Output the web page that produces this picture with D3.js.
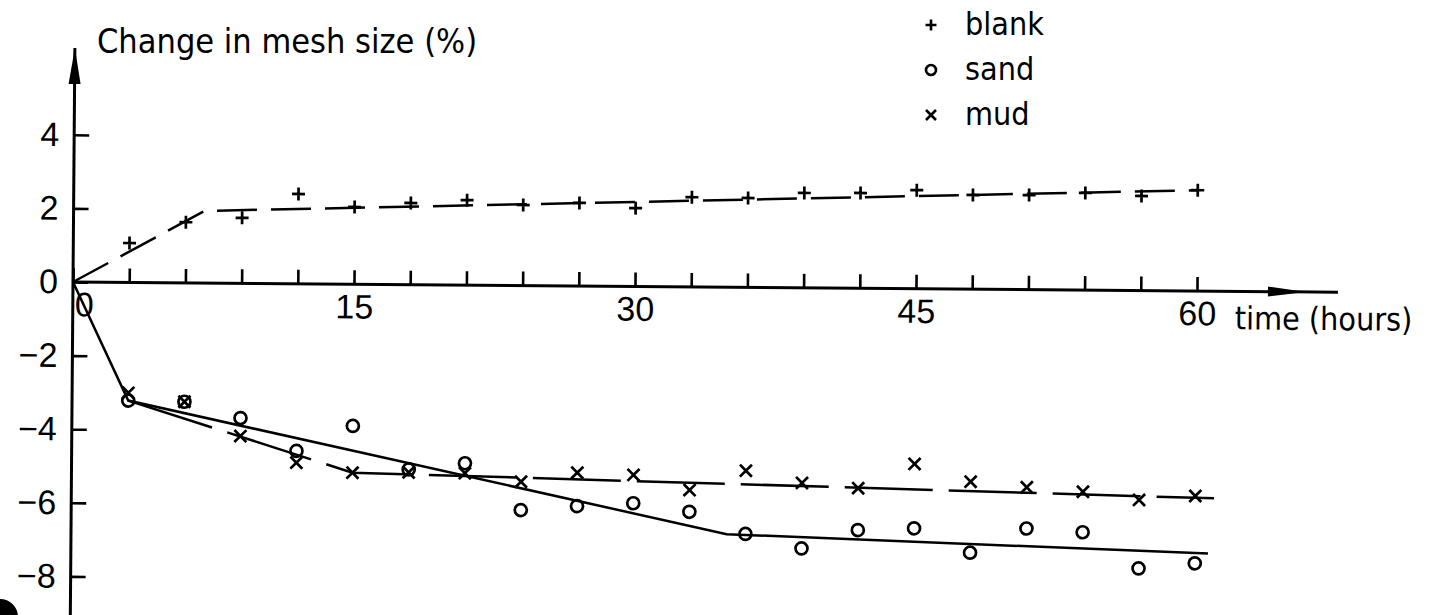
<!DOCTYPE html>
<html>
<head>
<meta charset="utf-8">
<script src="https://cdn.jsdelivr.net/npm/d3@7"></script>
<style>
  body { margin: 0; background: #fff; }
  svg { display: block; font-family: "DejaVu Sans Condensed", "DejaVu Sans", sans-serif; font-stretch: condensed; }
</style>
</head>
<body>
<svg id="chart" width="1434" height="615"></svg>
<script>
// measurements, hours after start
var hours = [3, 6, 9, 12, 15, 18, 21, 24, 27, 30, 33, 36, 39, 42, 45, 48, 51, 54, 57, 60];
var blank = [1.07, 1.65, 1.78, 2.44, 2.10, 2.22, 2.31, 2.19, 2.26, 2.13, 2.44, 2.43, 2.58, 2.59, 2.68, 2.56, 2.57, 2.64, 2.57, 2.74];
var sand = [-3.21, -3.23, -3.66, -4.54, -3.85, -5.02, -4.84, -6.10, -5.98, -5.89, -6.11, -6.70, -7.08, -6.57, -6.51, -7.16, -6.49, -6.58, -7.55, -7.40];
var mud = [-3.00, -3.23, -4.15, -4.86, -5.12, -5.10, -5.11, -5.33, -5.07, -5.12, -5.52, -4.98, -5.30, -5.43, -4.76, -5.23, -5.37, -5.48, -5.69, -5.57];

// hand fitted lines
var blankFitHours = [0, 7, 60];
var blankFitValues = [0, 1.96, 2.74];
var sandFitHours = [0, 3, 35, 60.7];
var sandFitValues = [0, -3.21, -6.71, -7.13];
var mudFitHours = [3, 15, 61];
var mudFitValues = [-3.21, -5.12, -5.63];

var xTicks = [0, 3, 6, 9, 12, 15, 18, 21, 24, 27, 30, 33, 36, 39, 42, 45, 48, 51, 54, 57, 60];
var xLabelTicks = [0, 15, 30, 45, 60];
var yTicks = [-8, -6, -4, -2, 0, 2, 4];

var legendNames = ["blank", "sand", "mud"];

var svg = d3.select("#chart");

var x = d3.scaleLinear().domain([0, 60]).range([73, 1197]);
var y = d3.scaleLinear().domain([-8, 4]).range([576.4, 134.8]);

// the scan is turned a little clockwise
var plot = svg.append("g")
  .attr("transform", "rotate(0.46," + x(0) + "," + y(0) + ")");

// axes
var xAxis = plot.append("g")
  .attr("transform", "translate(0," + y(0) + ")")
  .call(d3.axisBottom(x)
    .tickValues(xTicks)
    .tickSizeInner(-14)
    .tickSizeOuter(0)
    .tickPadding(10)
    .tickFormat(function(d) { return xLabelTicks.indexOf(d) >= 0 ? d : ""; }));
xAxis.select(".domain").remove();
xAxis.selectAll("line").attr("stroke", "#000").attr("stroke-width", 2.6);
xAxis.selectAll("text")
  .attr("font-size", 34)
  .attr("font-family", null)
  .attr("fill", "#000")
  .attr("dx", function(d) { return d === 0 ? 11 : 0; });

var yAxis = plot.append("g")
  .attr("transform", "translate(" + x(0) + ",0)")
  .call(d3.axisLeft(y)
    .tickValues(yTicks)
    .tickSizeInner(-15)
    .tickSizeOuter(0)
    .tickPadding(15)
    .tickFormat(function(d) { return d < 0 ? "\u2212" + Math.abs(d) : d; }));
yAxis.select(".domain").remove();
yAxis.selectAll("line").attr("stroke", "#000").attr("stroke-width", 2.6);
yAxis.selectAll("text")
  .attr("font-size", 34)
  .attr("font-family", null)
  .attr("fill", "#000");

// axis lines with arrows
plot.append("line")
  .attr("x1", x(0)).attr("y1", 48)
  .attr("x2", x(0)).attr("y2", 640)
  .attr("stroke", "#000").attr("stroke-width", 3);
plot.append("path")
  .attr("d", "M" + x(0) + ",48L" + (x(0) - 6) + ",84L" + (x(0) + 6) + ",84Z")
  .attr("fill", "#000");

plot.append("line")
  .attr("x1", x(0)).attr("y1", y(0))
  .attr("x2", 1338).attr("y2", y(0))
  .attr("stroke", "#000").attr("stroke-width", 3);
plot.append("path")
  .attr("d", "M1306," + y(0) + "L1268," + (y(0) - 5) + "L1268," + (y(0) + 5) + "Z")
  .attr("fill", "#000");

// fitted lines
var line = d3.line()
  .x(function(d) { return x(d[0]); })
  .y(function(d) { return y(d[1]); });

plot.append("path")
  .datum(d3.zip(blankFitHours, blankFitValues))
  .attr("d", line)
  .attr("fill", "none").attr("stroke", "#000").attr("stroke-width", 2.5)
  .attr("stroke-dasharray", "40,14");

plot.append("path")
  .datum(d3.zip(sandFitHours, sandFitValues))
  .attr("d", line)
  .attr("fill", "none").attr("stroke", "#000").attr("stroke-width", 2.5);

plot.append("path")
  .datum(d3.zip(mudFitHours, mudFitValues))
  .attr("d", line)
  .attr("fill", "none").attr("stroke", "#000").attr("stroke-width", 2.5)
  .attr("stroke-dasharray", "88,16");

// markers
function plusPath(r) { return "M" + (-r) + ",0H" + r + "M0," + (-r) + "V" + r; }
function timesPath(r) { return "M" + (-r) + "," + (-r) + "L" + r + "," + r + "M" + (-r) + "," + r + "L" + r + "," + (-r); }
function circlePath(r) { return "M" + r + ",0A" + r + "," + r + " 0 1,1 " + (-r) + ",0A" + r + "," + r + " 0 1,1 " + r + ",0"; }

var shapes = [plusPath(6.5), circlePath(6), timesPath(6)];
var series = [blank, sand, mud];

series.forEach(function(vals, i) {
  plot.append("g")
    .selectAll("path")
    .data(d3.zip(hours, vals))
    .enter()
    .append("path")
    .attr("transform", function(d) { return "translate(" + x(d[0]) + "," + y(d[1]) + ")"; })
    .attr("d", shapes[i])
    .attr("fill", "none")
    .attr("stroke", "#000")
    .attr("stroke-width", 2.7);
});

// axis titles
svg.append("text")
  .attr("x", 97).attr("y", 53)
  .attr("font-size", 34)
  .text("Change in mesh size (%)");

plot.append("text")
  .attr("x", 1235).attr("y", y(0) + 38)
  .attr("font-size", 32)
  .text("time (hours)");

// legend
var legendShapes = [plusPath(5.5), circlePath(5), timesPath(5)];
var legend = svg.append("g")
  .selectAll("g")
  .data(legendNames)
  .enter()
  .append("g")
  .attr("transform", function(d, i) { return "translate(931," + (25 + i * 45) + ")"; });

legend.append("path")
  .attr("d", function(d, i) { return legendShapes[i]; })
  .attr("fill", "none")
  .attr("stroke", "#000")
  .attr("stroke-width", 2.6);

legend.append("text")
  .attr("x", 34).attr("y", 10)
  .attr("font-size", 32)
  .text(function(d) { return d; });

// scanner blot in the corner
svg.append("circle")
  .attr("cx", 0).attr("cy", 617).attr("r", 18)
  .attr("fill", "#000");
</script>
</body>
</html>
